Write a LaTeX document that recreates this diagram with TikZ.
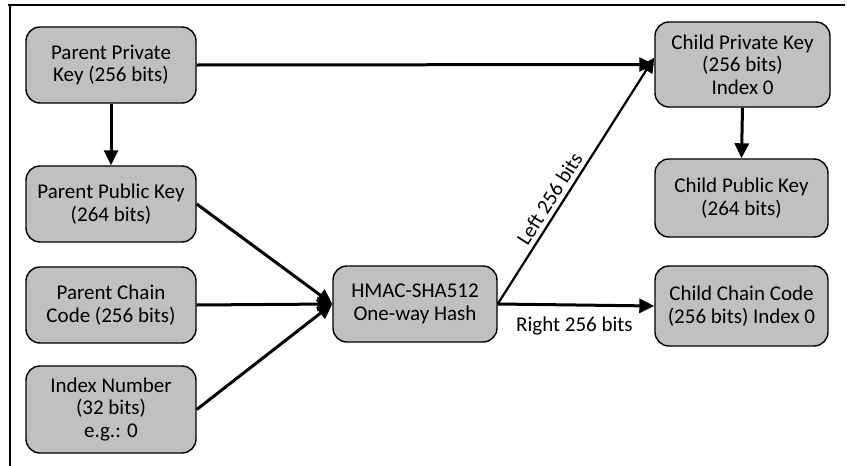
\documentclass[tikz,border=0pt]{standalone}
\usepackage{fontspec}
\setmainfont{Carlito}
\usetikzlibrary{arrows.meta}
\begin{document}
\begin{tikzpicture}[x=1pt,y=-1pt,
  box/.style={draw=black,line width=1.4pt,fill=boxgray,rounded corners=14pt,
    align=center,inner sep=0pt,font=\fontsize{21}{22.5}\selectfont},
  arr/.style={line width=3pt,-{Triangle[length=15pt,width=14pt]}},
  thinarr/.style={line width=2.2pt,-{Triangle[length=15pt,width=14pt]}},
  lbl/.style={font=\fontsize{21}{22.5}\selectfont}]
\definecolor{boxgray}{RGB}{192,192,192}
\useasboundingbox (0,0) rectangle (847,466);
\draw[line width=1.2pt] (8,5) -- (845,5);
\draw[line width=1.2pt] (10,5) -- (10,466);
\node[box,minimum width=170pt,minimum height=76pt] (ppk) at (111,65) {Parent Private\\Key (256 bits)};
\node[box,minimum width=170pt,minimum height=76pt] (pub) at (111,204) {Parent Public Key\\(264 bits)};
\node[box,minimum width=170pt,minimum height=76pt] (pcc) at (111,305) {Parent Chain\\Code (256 bits)};
\node[box,minimum width=170pt,minimum height=87pt] (idx) at (111,409.5) {Index Number\\(32 bits)\\e.g.: 0};
\node[box,minimum width=164pt,minimum height=76pt] (hm) at (415,304) {HMAC-SHA512\\One-way Hash};
\node[box,minimum width=175pt,minimum height=85pt] (cpk) at (742.5,64.5) {Child Private Key\\(256 bits)\\Index 0};
\node[box,minimum width=173pt,minimum height=78pt] (cpub) at (741.5,198) {Child Public Key\\(264 bits)};
\node[box,minimum width=173pt,minimum height=80pt] (ccc) at (741.5,306) {Child Chain Code\\(256 bits) Index 0};
\draw[arr] (ppk.east) -- (cpk.west);
\draw[arr] (ppk.south) -- (pub.north);
\draw[arr] (cpk.south) -- (cpub.north);
\draw[arr] (pub.east) -- (hm.west);
\draw[arr] (pcc.east) -- (hm.west);
\draw[arr] (idx.east) -- (hm.west);
\draw[thinarr] (hm.east) -- node[lbl,sloped,above=1pt,pos=0.40] {Left 256 bits} ([yshift=7pt]cpk.west);
\draw[arr] (hm.east) -- node[lbl,below=7pt,pos=0.49] {Right 256 bits} (ccc.west);
\end{tikzpicture}
\end{document}
